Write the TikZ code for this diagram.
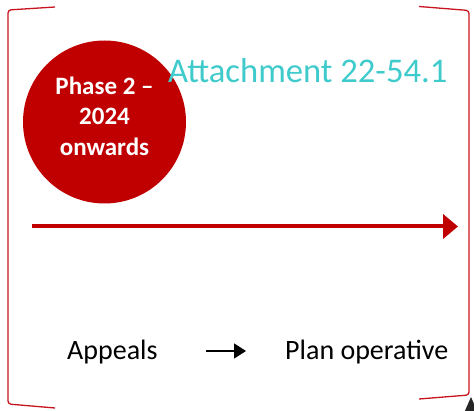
\documentclass[tikz,border=0pt]{standalone}
\usepackage{fontspec}
\setmainfont{Carlito}
\usetikzlibrary{arrows.meta}
\definecolor{phasered}{HTML}{C00000}
\definecolor{bracketred}{HTML}{C8141E}
\definecolor{attachcyan}{HTML}{3FCACB}
\tikzset{
  bracketline/.style={draw=bracketred, line width=1.3pt, rounded corners=3pt},
  phasedisc/.style={circle, fill=phasered, minimum size=163pt, inner sep=0pt},
  phasetext/.style={text=white, align=center, inner sep=0pt,
    font=\fontsize{25}{30.5}\selectfont\bfseries},
  plaintext/.style={inner sep=0pt, anchor=base west, font=\fontsize{28}{32}\selectfont},
  timeline/.style={draw=phasered, line width=4pt,
    -{Triangle[length=15pt, width=24pt]}},
  steparrow/.style={draw=black, line width=1.6pt,
    -{Triangle[length=12pt, width=15pt]}}
}
\begin{document}
\begin{tikzpicture}[x=1pt, y=-1pt]
  \useasboundingbox (0,0) rectangle (474,411);

  % side brackets
  \draw[bracketline] (55,7) -- (8,10) -- (8,404) -- (55,408);
  \draw[bracketline] (419,6.5) -- (469,10.5) -- (469,395) -- (419,399);

  % phase disc and its label
  \node[phasedisc] (phase) at (104.5,122) {};
  \node[phasetext] (phaselabel) at (104.5,116) {Phase 2 –\\2024\\onwards};

  % title
  \node[inner sep=0pt, anchor=base west, text=attachcyan,
    font=\fontsize{34.6}{40}\selectfont] (attach) at (168,83) {Attachment 22-54.1};

  % timeline
  \coordinate (tlstart) at (32,226.5);
  \coordinate (tlend) at (458,226.5);
  \draw[timeline] (tlstart) -- (tlend);

  % steps
  \node[plaintext] (appeals) at (67,360) {Appeals};
  \node[plaintext] (plan) at (285,360) {Plan operative};
  \coordinate (stepfrom) at (206,351);
  \coordinate (stepto) at (246,351);
  \draw[steparrow] (stepfrom) -- (stepto);

  % small corner marker
  \begin{scope}
    \clip (0,0) rectangle (474,411);
    \coordinate (markertip) at (471,397);
    \fill[black!85] (markertip) -- (478,413) -- (464,413) -- cycle;
  \end{scope}
\end{tikzpicture}
\end{document}
